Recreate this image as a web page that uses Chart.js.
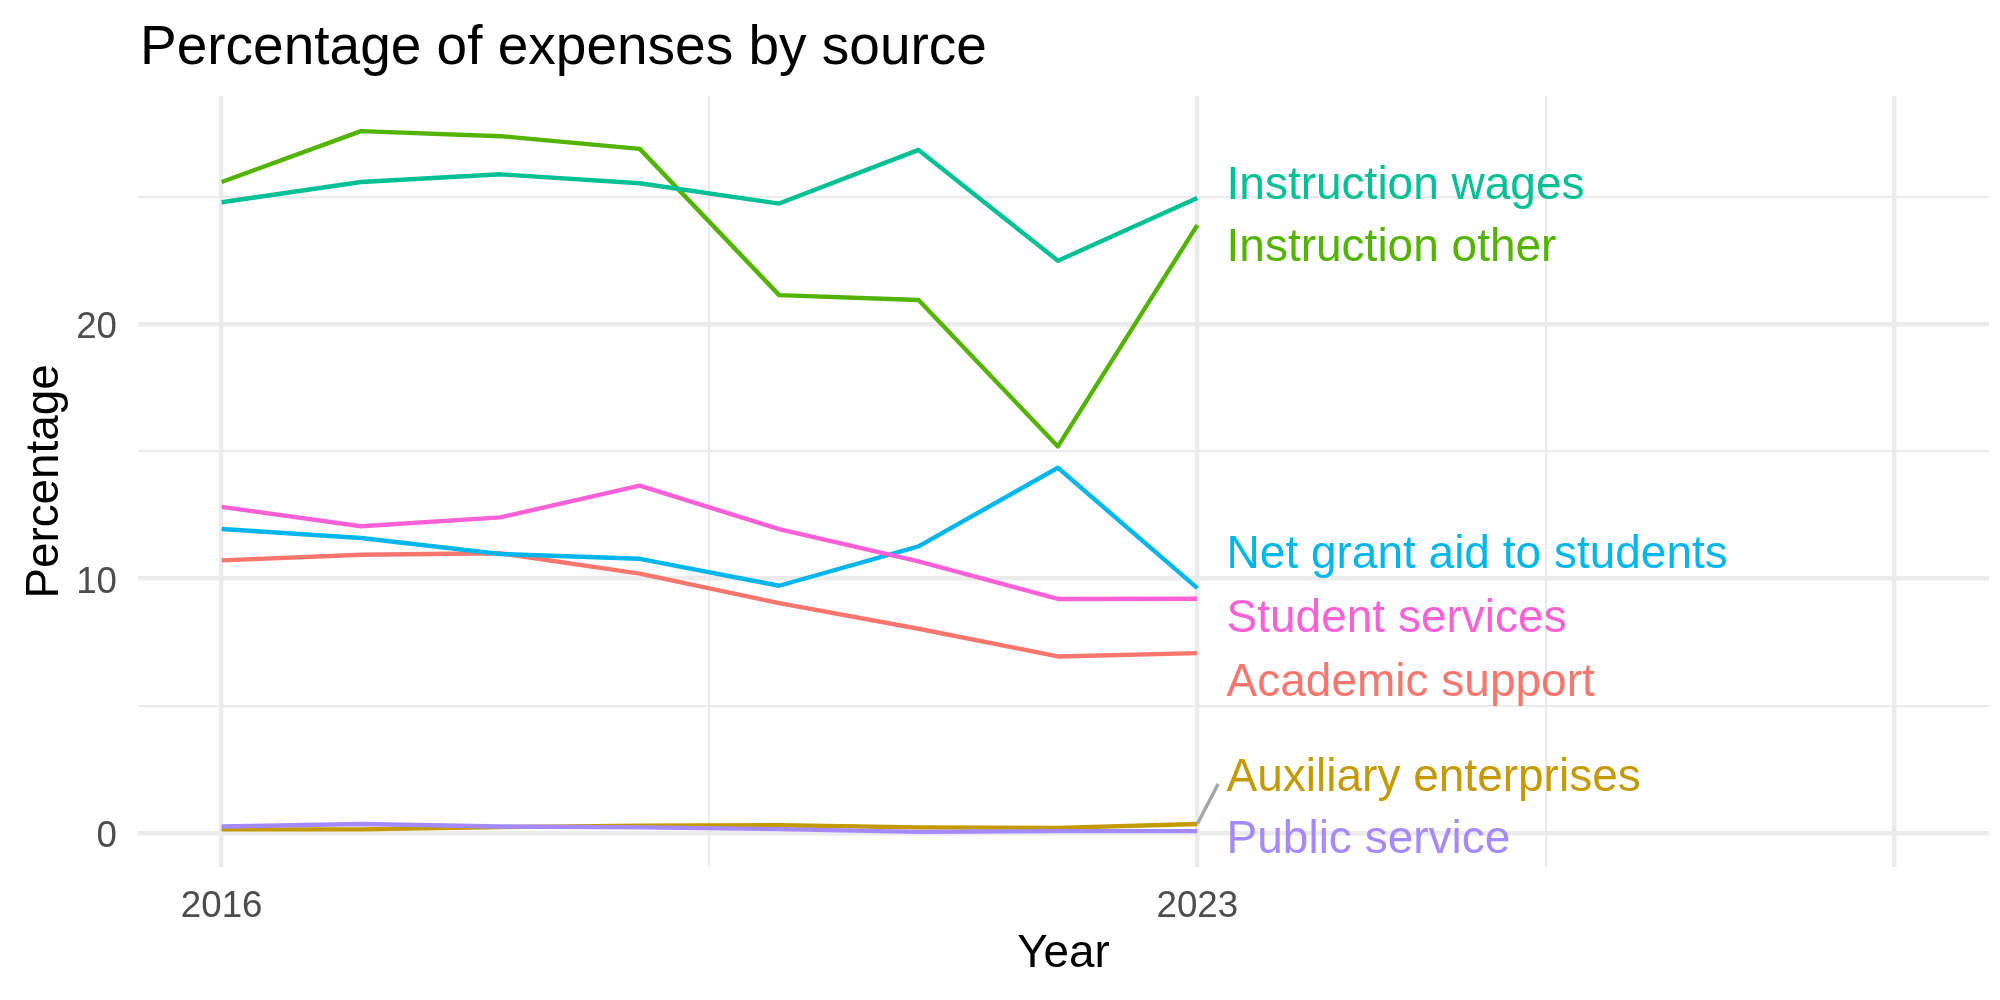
<!DOCTYPE html>
<html lang="en">
<head>
  <meta charset="UTF-8" />
  <title>Percentage of expenses by source</title>
  <script src="https://cdn.jsdelivr.net/npm/chart.js"></script>
  <style>
    body { margin: 0; background: #fff; }
    canvas { display: block; }
  </style>
</head>
<body>
  <canvas id="grafico" width="2000" height="1000"></canvas>

  <script>
    // data
    const years = [2016, 2017, 2018, 2019, 2020, 2021, 2022, 2023];
    const series = ["Academic support", "Auxiliary enterprises", "Instruction other",
      "Instruction wages", "Net grant aid to students", "Public service", "Student services"];
    const academicSupport  = [10.72, 10.94, 11.00, 10.20, 9.04, 8.03, 6.94, 7.07];
    const auxiliary        = [0.14, 0.14, 0.23, 0.28, 0.30, 0.22, 0.20, 0.35];
    const instructionOther = [25.6, 27.6, 27.4, 26.9, 21.15, 20.96, 15.2, 23.9];
    const instructionWages = [24.8, 25.6, 25.9, 25.55, 24.75, 26.86, 22.5, 24.97];
    const netGrantAid      = [11.95, 11.6, 10.97, 10.78, 9.72, 11.27, 14.36, 9.63];
    const publicService    = [0.25, 0.35, 0.25, 0.22, 0.15, 0.04, 0.07, 0.07];
    const studentServices  = [12.82, 12.06, 12.41, 13.66, 11.95, 10.68, 9.20, 9.21];
    const xTickLabels = [2016, 2023];
    const yTickLabels = [0, 10, 20];
    // where the repelled labels sit (data units)
    const labelAt = [5.9, 2.16, 22.99, 25.44, 10.9, -0.28, 8.42];

    const valores = [academicSupport, auxiliary, instructionOther, instructionWages,
      netGrantAid, publicService, studentServices];
    const colores = ["#F8766D", "#C49A00", "#53B400", "#00C094", "#00B6EB", "#A58AFF", "#FB61D7"];
    const fuente = "'Liberation Sans', Arial, sans-serif";

    const xGrid = [2016, 2019.5, 2023, 2025.5, 2028];
    const yGrid = [0, 5, 10, 15, 20, 25];

    const etiquetas = {
      id: "etiquetas",
      afterDatasetsDraw(chart) {
        const { ctx, scales: { x, y } } = chart;
        ctx.save();
        // segment for the label pushed away from its line
        ctx.strokeStyle = "#A6A6A6";
        ctx.lineWidth = 3.5;
        ctx.beginPath();
        ctx.moveTo(x.getPixelForValue(2023), y.getPixelForValue(auxiliary[7]));
        ctx.lineTo(x.getPixelForValue(2023.15), y.getPixelForValue(1.93));
        ctx.stroke();

        ctx.font = "46px " + fuente;
        ctx.textAlign = "left";
        ctx.textBaseline = "middle";
        series.forEach((s, i) => {
          ctx.fillStyle = colores[i];
          ctx.fillText(s, x.getPixelForValue(2023.21), y.getPixelForValue(labelAt[i]));
        });

        ctx.fillStyle = "#000";
        ctx.font = "55px " + fuente;
        ctx.textBaseline = "alphabetic";
        ctx.fillText("Percentage of expenses by source", 140, 64);
        ctx.restore();
      }
    };

    new Chart(document.getElementById("grafico").getContext("2d"), {
      type: "line",
      data: {
        datasets: series.map((s, i) => ({
          label: s,
          data: years.map((yr, j) => ({ x: yr, y: valores[i][j] })),
          borderColor: colores[i],
          borderWidth: 4.4,
          borderJoinStyle: "round",
          pointRadius: 0,
          tension: 0,
          order: series.length - i
        }))
      },
      options: {
        responsive: false,
        animation: false,
        devicePixelRatio: 1,
        layout: { padding: { top: 96, right: 11, left: 0, bottom: 0 } },
        plugins: { legend: { display: false }, tooltip: { enabled: false } },
        scales: {
          x: {
            type: "linear",
            min: 2015.40,
            max: 2028.68,
            afterFit(scale) { scale.height = 133; },
            afterBuildTicks(scale) { scale.ticks = xGrid.map(v => ({ value: v })); },
            border: { display: false },
            grid: {
              color: "#EBEBEB",
              drawTicks: false,
              lineWidth: c => (c.tick && (c.tick.value % 1 !== 0)) ? 2.2 : 4.4
            },
            ticks: {
              padding: 18,
              color: "#4D4D4D",
              font: { family: fuente, size: 36.7 },
              maxRotation: 0,
              autoSkip: false,
              callback: v => xTickLabels.includes(v) ? String(v) : ""
            },
            title: {
              display: true,
              text: "Year",
              color: "#000",
              font: { family: fuente, size: 45.8 },
              padding: { top: 0, bottom: 18 }
            }
          },
          y: {
            min: -1.34,
            max: 28.98,
            afterFit(scale) { scale.width = 138; },
            afterBuildTicks(scale) { scale.ticks = yGrid.map(v => ({ value: v })); },
            border: { display: false },
            grid: {
              color: "#EBEBEB",
              drawTicks: false,
              lineWidth: c => (c.tick && yTickLabels.includes(c.tick.value)) ? 4.4 : 2.2
            },
            ticks: {
              padding: 21,
              labelOffset: 4,
              color: "#4D4D4D",
              font: { family: fuente, size: 36.7 },
              autoSkip: false,
              callback: v => yTickLabels.includes(v) ? String(v) : ""
            },
            title: {
              display: true,
              text: "Percentage",
              color: "#000",
              font: { family: fuente, size: 45.8 },
              padding: { top: 17.5, bottom: 0 }
            }
          }
        }
      },
      plugins: [etiquetas]
    });
  </script>
</body>
</html>
